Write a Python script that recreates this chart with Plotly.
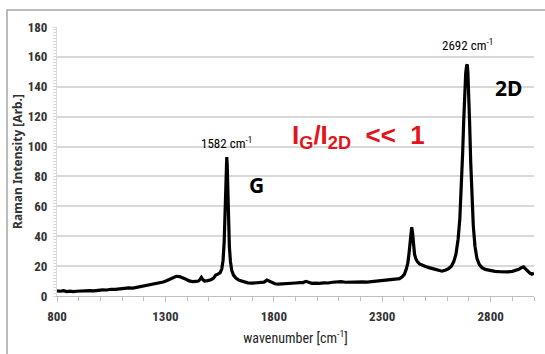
import plotly.graph_objects as go

wavenumber = [800, 815, 830, 845, 860, 875, 890, 905, 920, 935, 950, 970, 990, 1010, 1030, 1050, 1070, 1090, 1110, 1130,
              1150, 1170, 1190, 1210, 1230, 1250, 1270, 1290, 1305, 1320, 1335, 1350, 1365, 1380, 1395, 1410, 1425, 1440,
              1452, 1460, 1466, 1472, 1480, 1495, 1510, 1522, 1532, 1542, 1552, 1560, 1566, 1571, 1575, 1578, 1581, 1583,
              1585, 1588, 1591, 1595, 1600, 1606, 1614, 1625, 1640, 1660, 1680, 1700, 1720, 1740, 1755, 1768, 1778, 1790,
              1805, 1820, 1840, 1860, 1880, 1900, 1920, 1935, 1948, 1960, 1975, 1990, 2010, 2030, 2050, 2070, 2090, 2110,
              2130, 2150, 2170, 2190, 2210, 2230, 2250, 2270, 2290, 2310, 2330, 2350, 2365, 2380, 2392, 2402, 2410, 2418,
              2424, 2429, 2433, 2436, 2440, 2444, 2449, 2455, 2462, 2472, 2485, 2500, 2515, 2530, 2545, 2560, 2575, 2590,
              2605, 2618, 2630, 2640, 2650, 2658, 2665, 2671, 2676, 2681, 2685, 2689, 2692, 2695, 2699, 2703, 2708, 2714,
              2720, 2728, 2737, 2748, 2760, 2775, 2790, 2805, 2820, 2840, 2860, 2880, 2900, 2915, 2930, 2942, 2952, 2960,
              2970, 2980, 2990, 3000]

intensity = [3.5, 3.2, 3.6, 3.0, 3.3, 2.9, 3.2, 3.4, 3.1, 3.5, 3.6, 3.4, 3.9, 4.1, 4.0, 4.5, 4.4, 4.9, 5.0, 5.4,
             5.3, 5.9, 6.2, 6.6, 7.3, 7.8, 8.6, 9.4, 10.2, 11.3, 12.5, 13.2, 13.0, 12.3, 11.2, 10.1, 9.6, 9.8,
             10.0, 11.2, 12.4, 11.0, 10.0, 10.3, 10.8, 12.0, 14.0, 14.6, 15.5, 18.0, 24, 36, 55, 75, 91, 93,
             88, 70, 50, 33, 23, 17, 14, 12, 10.5, 9.5, 8.8, 8.6, 8.8, 8.7, 9.3, 10.6, 10.0, 8.9,
             8.2, 8.0, 8.3, 8.5, 8.4, 8.7, 8.9, 9.0, 9.8, 9.1, 8.5, 8.6, 8.4, 8.8, 8.7, 9.2, 9.4, 9.6,
             9.2, 9.4, 9.1, 9.3, 9.5, 9.3, 9.6, 9.8, 10.0, 10.1, 10.4, 10.9, 11.3, 11.6, 12.8, 14.5, 17.5, 22,
             29, 37, 44, 46, 42, 34, 28, 25, 23, 21.5, 20.5, 19.8, 19.0, 18.6, 17.8, 17.2, 16.6, 17.3,
             18.2, 19.8, 23, 28, 38, 52, 72, 96, 118, 138, 149, 154, 155, 150, 136, 116, 90, 65,
             47, 33, 25, 21, 19, 17.8, 17.2, 16.8, 16.5, 16.3, 16.0, 16.2, 16.5, 17.0, 17.8, 19.0, 19.5, 18.3,
             16.5, 15.4, 14.6, 15.2]

x_tick_vals = [800, 1300, 1800, 2300, 2800]
y_tick_vals = [0, 20, 40, 60, 80, 100, 120, 140, 160, 180]

narrow = "Liberation Sans Narrow, Arial Narrow, Roboto Condensed, sans-serif"
sans = "Liberation Sans, Arial, sans-serif"

fig = go.Figure()
fig.add_trace(go.Scatter(x=wavenumber, y=intensity, mode="lines",
                         line=dict(color="black", width=3.2), showlegend=False))

W, H = 545, 354
ml, mr, mt, mb = 57, 11, 27, 58
pw, ph = W - ml - mr, H - mt - mb

fig.update_layout(
    width=W, height=H,
    margin=dict(l=ml, r=mr, t=mt, b=mb, autoexpand=False),
    paper_bgcolor="white", plot_bgcolor="white",
    xaxis=dict(range=[800, 3000], tickvals=x_tick_vals, ticktext=[f"<b>{v}</b>" for v in x_tick_vals],
               ticks="outside", ticklen=5, tickcolor="#bfbfbf", ticklabelstandoff=3, automargin=False,
               showgrid=False, zeroline=False, showline=True, linecolor="#bfbfbf", linewidth=1,
               minor=dict(dtick=100, tick0=800, ticks="outside", ticklen=4, tickcolor="#bfbfbf"),
               tickfont=dict(family=narrow, size=13, color="#333333"),
               title=dict(text="wavenumber [cm<sup>-1</sup>]", font=dict(family=narrow, size=14, color="#262626"),
                          standoff=10)),
    yaxis=dict(range=[0, 180], tickvals=y_tick_vals, ticktext=[f"<b>{v}</b>" for v in y_tick_vals],
               ticks="", showgrid=True, gridcolor="#d9d9d9", gridwidth=1.5, ticklabelstandoff=6, automargin=False,
               zeroline=False, showline=True, linecolor="#d9d9d9", linewidth=1,
               minor=dict(dtick=2, ticks="outside", ticklen=3, tickcolor="#d9d9d9"),
               tickfont=dict(family=narrow, size=13, color="#333333"),
               title=dict(text="<b>Raman Intensity [Arb.]</b>", font=dict(family="Noto Sans, sans-serif", size=12, color="#333333"),
                          standoff=2)),
)

# outer chart frame
fig.add_shape(type="rect", xref="paper", yref="paper",
              x0=(7 - ml) / pw, x1=(W + 5 - ml) / pw, y0=(H - mb - (H + 5)) / ph, y1=(H - mb - 10) / ph,
              line=dict(color="#a6a6a6", width=1.5), fillcolor="rgba(0,0,0,0)", layer="below")

fig.add_annotation(x=1582, y=96, text="1582 cm<sup>-1</sup>", showarrow=False,
                   font=dict(family=narrow, size=13, color="black"), yanchor="bottom")
fig.add_annotation(x=2692, y=161, text="2692 cm<sup>-1</sup>", showarrow=False,
                   font=dict(family=narrow, size=13, color="black"), yanchor="bottom")
fig.add_annotation(x=1722, y=74, text="<b>G</b>", showarrow=False,
                   font=dict(family="Noto Sans, sans-serif", size=21, color="black"))
fig.add_annotation(x=2882, y=139, text="<b>2D</b>", showarrow=False,
                   font=dict(family="Noto Sans, sans-serif", size=21, color="black"))
fig.add_annotation(x=2190, y=107, text="I<sub>G</sub>/I<sub>2D</sub>  <<  1", showarrow=False,
                   font=dict(family=sans, size=26, color="#e3141b", weight=600))

fig.write_html("out.html")
